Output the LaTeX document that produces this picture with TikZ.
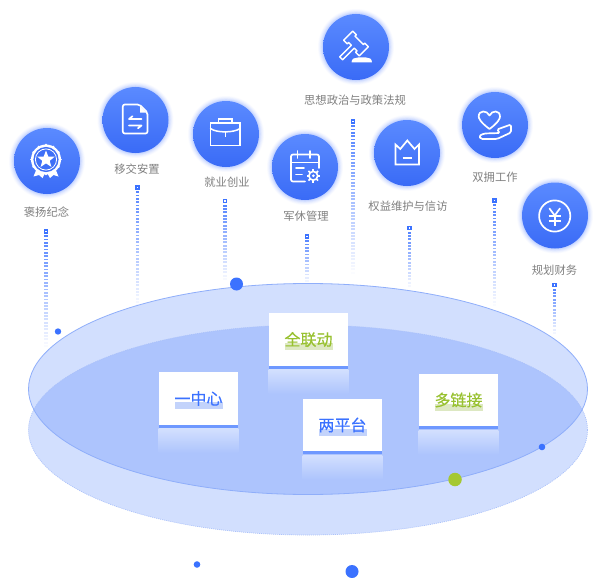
\documentclass[tikz,border=0pt]{standalone}
\usepackage{fontspec}
\setmainfont{Noto Sans CJK SC}
\usetikzlibrary{shapes.geometric}
\definecolor{cblue}{HTML}{3B72FF}
\definecolor{ballt}{HTML}{5A8AFF}
\definecolor{ballb}{HTML}{3A6BF6}
\definecolor{glowc}{HTML}{8FAEFF}
\definecolor{elight}{HTML}{D2DFFE}
\definecolor{edark}{HTML}{ADC4FD}
\definecolor{eline}{HTML}{8FAEFA}
\definecolor{stripe}{HTML}{6E98FF}
\definecolor{cgreen}{HTML}{98C12F}
\definecolor{hblue}{HTML}{C3D3FB}
\definecolor{hgreen}{HTML}{DDE8C2}
\definecolor{lab}{HTML}{808080}
\definecolor{dotg}{HTML}{A5C832}
\tikzset{
 iconball/.style={circle,minimum size=66pt,inner sep=0pt,top color=ballt,bottom color=ballb,draw=none},
 toplabel/.style={text=lab,font=\fontsize{11.3}{13}\selectfont,inner sep=0pt},
 cardbox/.style={fill=white,draw=none,minimum width=79.5pt,minimum height=52.5pt,inner sep=0pt},
 cardtext/.style={font=\fontsize{16}{18}\selectfont\addfontfeature{FakeBold=0.35},inner sep=0pt},
 ic/.style={draw=white,line width=1.7pt,line join=round,line cap=round},
 icf/.style={fill=white,draw=none},
}
\newcommand{\myball}[3]{%
  \foreach \rr/\oo in {38/.04,37.2/.06,36.4/.08,35.6/.10,34.8/.14,34/.18}{\fill[glowc,opacity=\oo] (#2,#3) circle[radius=\rr];}
  \node[iconball] (#1) at (#2,#3) {};}
\newcommand{\mycol}[4]{%
  \coordinate (#1) at (#2,#3);
  \fill[cblue] ([shift={(-2.2,-2.2)}]#1) rectangle ([shift={(2.2,2.2)}]#1);
  \fill[white] ([shift={(-.8,-.8)}]#1) rectangle ([shift={(.8,.8)}]#1);
  \pgfmathtruncatemacro{\nn}{(#4-#3)/3.33}
  \foreach \i in {1,...,\nn}{
    \pgfmathsetmacro{\yy}{#3+.4+\i*3.33}
    \pgfmathsetmacro{\oo}{.9*(1-\i/\nn)}
    \fill[cblue,opacity=\oo] (#2-1.9,\yy) rectangle (#2+1.9,\yy+1.9);
  }}
\newcommand{\mycard}[8]{% name cx top text color hl
  \node[cardbox,anchor=north] (#1) at (#2,#3) {};
  \fill[stripe] (#1.south west) rectangle ([yshift=-3pt]#1.south east);
  \shade[top color=elight,bottom color=edark] ([yshift=-4pt]#1.south west) rectangle ([yshift=-28pt]#1.south east);
  \fill[#6] (#2-24,#3+30) rectangle (#2+24,#3+37);
  \node[cardtext,text=#5] (#1t) at (#2,#3+26.5) {#4};}
\begin{document}
\begin{tikzpicture}[x=1pt,y=-1pt]
\useasboundingbox (0,0) rectangle (600,578);
\fill[white] (0,0) rectangle (600,578);
% dotted columns
\mycol{d1}{46}{231.5}{350}
\mycol{d2}{137.5}{187.5}{310}
\mycol{d3}{225}{201}{284}
\mycol{d4}{307}{236.5}{284}
\mycol{d5}{353}{121.5}{276}
\mycol{d6}{409.5}{228}{290}
\mycol{d7}{494.5}{200.5}{308}
\mycol{d8}{554.5}{285}{335}
% ellipses
\fill[elight] (308,430) ellipse[x radius=279.5,y radius=105];
\fill[elight] (308,389) ellipse[x radius=279.5,y radius=105.5];
\begin{scope}
 \clip (308,430) ellipse[x radius=279.5,y radius=105];
 \fill[edark] (308,389) ellipse[x radius=279.5,y radius=105.5];
\end{scope}
\draw[eline!75,line width=.7pt,dash pattern=on 1pt off 1pt] (308,430) ellipse[x radius=279.5,y radius=105];
\draw[eline,line width=.8pt] (308,389) ellipse[x radius=279.5,y radius=105.5];
% dots
\node[circle,fill=cblue,minimum size=13pt,inner sep=0pt] (p1) at (236.5,284) {};
\node[circle,fill=cblue,minimum size=6.4pt,inner sep=0pt] (p2) at (58,331.5) {};
\node[circle,fill=cblue,minimum size=6.6pt,inner sep=0pt] (p3) at (197,564.5) {};
\node[circle,fill=cblue,minimum size=13pt,inner sep=0pt] (p4) at (352,571.5) {};
\node[circle,fill=cblue,minimum size=6.6pt,inner sep=0pt] (p5) at (542,447) {};
\node[circle,fill=dotg,minimum size=13.5pt,inner sep=0pt] (p6) at (455,479.5) {};
% cards
\mycard{c1}{198.5}{372}{一中心}{cblue}{hblue}{}{}
\mycard{c2}{308.5}{313}{全联动}{cgreen}{hgreen}{}{}
\mycard{c3}{342.5}{398.5}{两平台}{cblue}{hblue}{}{}
\mycard{c4}{458.5}{373.5}{多链接}{cgreen}{hgreen}{}{}
% balls
\myball{i1}{47}{161}
\myball{i2}{135.5}{120}
\myball{i3}{226}{134}
\myball{i4}{305}{167}
\myball{i5}{356}{47}
\myball{i6}{407}{153}
\myball{i7}{495}{125}
\myball{i8}{555}{215.5}
% labels
\node[toplabel] (l1) at (46.5,212.5) {褒扬纪念};
\node[toplabel] (l2) at (137,169.5) {移交安置};
\node[toplabel] (l3) at (227,182) {就业创业};
\node[toplabel] (l4) at (306,216) {军休管理};
\node[toplabel] (l5) at (355,100) {思想政治与政策法规};
\node[toplabel] (l6) at (408,206) {权益维护与信访};
\node[toplabel] (l7) at (495,177) {双拥工作};
\node[toplabel] (l8) at (554.5,270.5) {规划财务};
% icon 1 badge
\fill[white] (37,168) -- (33.5,176.5) -- (39,175) -- (42.5,178) -- (46,171) -- (50,178) -- (53.5,175) -- (58.5,176.5) -- (55,168) -- cycle;
\fill[white] (46,159.5) circle[radius=15];
\fill[ballb!85!ballt] (46,159.5) circle[radius=12.6];
\foreach \a in {0,30,...,330}{\fill[white] (46,159.5) ++(\a:14.6) circle[radius=1.2];}
\draw[white,line width=.8pt] (46,159.5) circle[radius=10.6];
\fill[white] (46,150.5) -- (48.3,156.5) -- (54.7,156.7) -- (49.7,160.8) -- (51.4,167) -- (46,163.4) -- (40.6,167) -- (42.3,160.8) -- (37.3,156.7) -- (43.7,156.5) -- cycle;
% icon 2 document
\draw[ic,rounded corners=2pt] (139.5,104.5) -- (122.8,104.5) -- (122.8,133.5) -- (147.5,133.5) -- (147.5,112.5) -- cycle;
\fill[white] (140,106) -- (146.5,112.5) -- (140,112.5) -- cycle;
\draw[ic] (141.5,119) -- (129,119) -- (132.5,116.2);
\draw[ic] (129,125.5) -- (141.5,125.5) -- (138,128.3);
% icon 3 briefcase
\draw[ic,line cap=butt,line join=miter] (210.5,123) rectangle (240,145.5);
\draw[ic,line cap=butt,line join=miter] (218.5,123) -- (218.5,119) -- (232,119) -- (232,123);
\draw[ic,line width=1.5pt] (210.5,128.5) .. controls (216,133) and (234,133) .. (240,128.5);
\draw[white,line width=1.6pt] (225.3,131) -- (225.3,137);
% icon 4 calendar + gear
\draw[ic,rounded corners=2pt] (305,181.5) -- (291,181.5) -- (291,154.5) -- (319,154.5) -- (319,168);
\draw[ic] (297.5,151) -- (297.5,158) (310,151) -- (310,158);
\draw[ic,line cap=butt] (291,162.5) -- (319,162.5);
\draw[ic] (296,168) -- (304,168) (296,174.5) -- (302,174.5);
\draw[white,line width=1.6pt] (313.3,175.8) circle[radius=4.4];
\fill[white] (313.3,175.8) circle[radius=1.5];
\foreach \a in {0,45,...,315}{\draw[white,line width=1.7pt] (313.3,175.8) ++(\a:4.5) -- ++(\a:2.3);}
% icon 5 gavel
\begin{scope}[x={(.707pt,-.707pt)},y={(-.707pt,-.707pt)},shift={(356pt,-43.5pt)}]
\draw[ic,line width=1.4pt] (-11,-6.5) -- (-6,-6.5) -- (-6,-4.5) -- (6,-4.5) -- (6,-6.5) -- (11,-6.5) -- (11,6.5) -- (6,6.5) -- (6,4.5) -- (2,4.5) -- (2,21) -- (-2,21) -- (-2,4.5) -- (-6,4.5) -- (-6,6.5) -- (-11,6.5) -- cycle;
\end{scope}
\fill[white] (351.5,62.5) .. controls (351.5,58.5) and (355,57.5) .. (358,57.5) -- (366,57.5) .. controls (369,57.5) and (372,58.5) .. (372,62.5) -- cycle;
% icon 6 crown
\draw[ic,line cap=butt,line join=miter] (395.5,144.5) -- (395.5,164.5) -- (419,164.5) -- (419,144.5) -- (414.5,149) -- (407.3,140.5) -- (400.3,149) -- cycle;
\draw[ic,line cap=butt] (402.5,158.3) -- (411.5,158.3);
% icon 7 heart and hand
\draw[ic] (489.5,129) .. controls (480,122) and (478.7,118) .. (478.7,116.5) .. controls (478.7,110) and (487,110) .. (489.5,115.5) .. controls (492,110) and (500,110) .. (500,116.5) .. controls (500,118) and (499,122) .. (489.5,129) -- cycle;
\draw[ic,rounded corners=1.5pt] (484,133.5) -- (500,133) -- (497,129.5) -- (511,124.5) -- (511,132.5) -- (497,139) -- (481,139) -- (479,136) -- cycle;
% icon 8 yen
\draw[ic] (554.7,216) circle[radius=15.6];
\draw[ic] (549.5,208.5) -- (554.7,215.5) -- (559.9,208.5);
\draw[ic,line cap=butt] (548.5,216.3) -- (561,216.3) (548.5,220.8) -- (561,220.8) (554.7,215.5) -- (554.7,226);
\end{tikzpicture}
\end{document}
